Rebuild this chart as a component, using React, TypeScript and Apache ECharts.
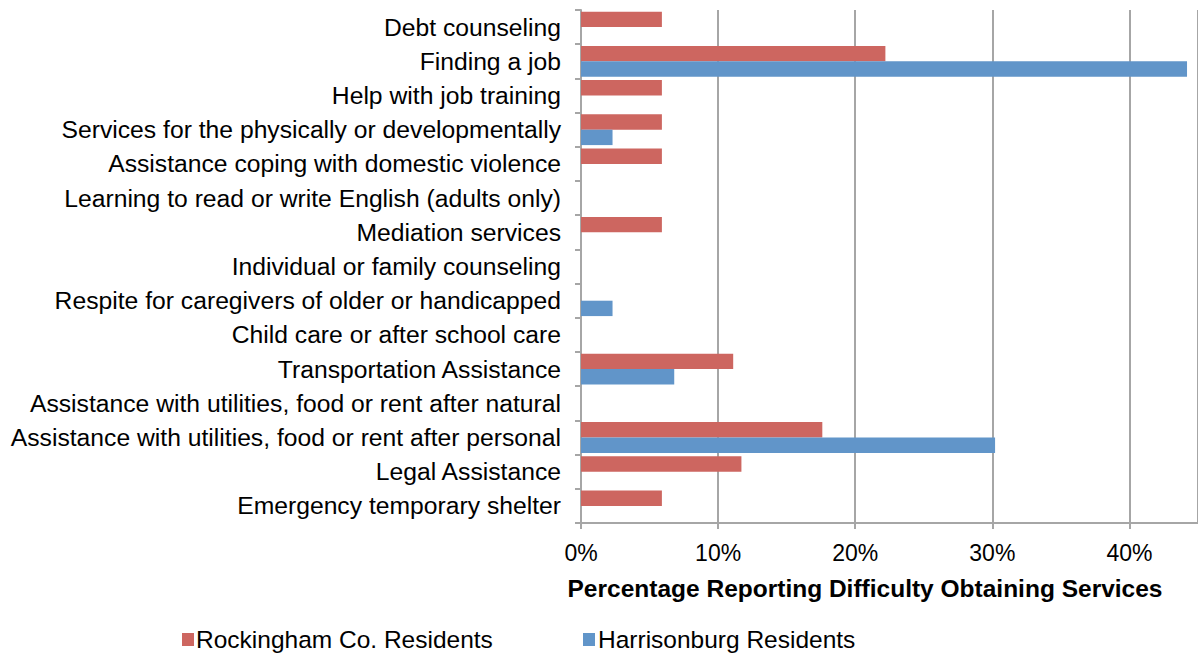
import React, { useEffect, useRef } from "react";
import * as echarts from "echarts";

const categories = [
  "Debt counseling",
  "Finding a job",
  "Help with job training",
  "Services for the physically or developmentally",
  "Assistance coping with domestic violence",
  "Learning to read or write English (adults only)",
  "Mediation services",
  "Individual or family counseling",
  "Respite for caregivers of older or handicapped",
  "Child care or after school care",
  "Transportation Assistance",
  "Assistance with utilities, food or rent after natural",
  "Assistance with utilities, food or rent after personal",
  "Legal Assistance",
  "Emergency temporary shelter",
];

const rockingham = [5.9, 22.2, 5.9, 5.9, 5.9, 0, 5.9, 0, 0, 0, 11.1, 0, 17.6, 11.7, 5.9];
const harrisonburg = [0, 44.2, 0, 2.3, 0, 0, 0, 0, 2.3, 0, 6.8, 0, 30.2, 0, 0];

const xTicks = { min: 0, max: 45, interval: 10 };
const axisTitle = "Percentage Reporting Difficulty Obtaining Services";
const seriesNames = ["Rockingham Co. Residents", "Harrisonburg Residents"];

const FONT = "'Liberation Sans', Arial, Helvetica, sans-serif";
const RED = "#CD6660";
const BLUE = "#6195C9";
const GRAY = "#A6A6A6";

export default function App() {
  const ref = useRef<HTMLDivElement>(null);
  useEffect(() => {
    if (!ref.current) return;
    const chart = echarts.init(ref.current, undefined, { renderer: "svg" });
    chart.setOption({
      animation: false,
      backgroundColor: "#ffffff",
      textStyle: { fontFamily: FONT },
      legend: [
        {
          data: [seriesNames[0]],
          left: 177,
          top: 622,
          itemWidth: 12,
          itemHeight: 13,
          icon: "rect",
          textStyle: { fontSize: 24.5, color: "#000", fontFamily: FONT, padding: [9, 0, 0, -3] },
        },
        {
          data: [seriesNames[1]],
          left: 578,
          top: 622,
          itemWidth: 12,
          itemHeight: 13,
          icon: "rect",
          textStyle: { fontSize: 24.5, color: "#000", fontFamily: FONT, padding: [9, 0, 0, -2] },
        },
      ],
      grid: { left: 581, right: -2, top: 10, bottom: 133, containLabel: false },
      xAxis: {
        type: "value",
        min: xTicks.min,
        max: xTicks.max,
        interval: xTicks.interval,
        name: axisTitle,
        nameLocation: "middle",
        nameGap: 53,
        nameTextStyle: {
          fontSize: 24.5,
          fontWeight: "bold",
          color: "#000",
          fontFamily: FONT,
          padding: [0, 49, 0, 0],
        },
        axisLine: { show: true, lineStyle: { color: GRAY, width: 2 } },
        axisTick: { show: true, length: 6, lineStyle: { color: GRAY, width: 2 } },
        splitLine: { show: true, lineStyle: { color: GRAY, width: 2 } },
        axisLabel: {
          fontSize: 23,
          color: "#000",
          fontFamily: FONT,
          margin: 18,
          showMaxLabel: false,
          formatter: (v: number) => (v % 10 === 0 ? v + "%" : ""),
        },
      },
      yAxis: {
        type: "category",
        data: categories,
        inverse: true,
        axisLine: { show: true, lineStyle: { color: GRAY, width: 2 } },
        axisTick: { show: true, length: 6, lineStyle: { color: GRAY, width: 2 } },
        splitLine: { show: false },
        axisLabel: {
          fontSize: 24.7,
          color: "#000",
          fontFamily: FONT,
          margin: 20,
          padding: [8, 0, 0, 0],
        },
      },
      series: [
        {
          name: seriesNames[0],
          type: "bar",
          data: rockingham,
          itemStyle: { color: RED },
          barGap: "0%",
          barCategoryGap: "10%",
        },
        {
          name: seriesNames[1],
          type: "bar",
          data: harrisonburg,
          itemStyle: { color: BLUE },
          barGap: "0%",
          barCategoryGap: "10%",
        },
      ],
    });
    return () => chart.dispose();
  }, []);
  return (
    <div
      ref={ref}
      style={{ position: "fixed", left: 0, top: 0, width: 1198, height: 656, background: "#fff" }}
    />
  );
}
